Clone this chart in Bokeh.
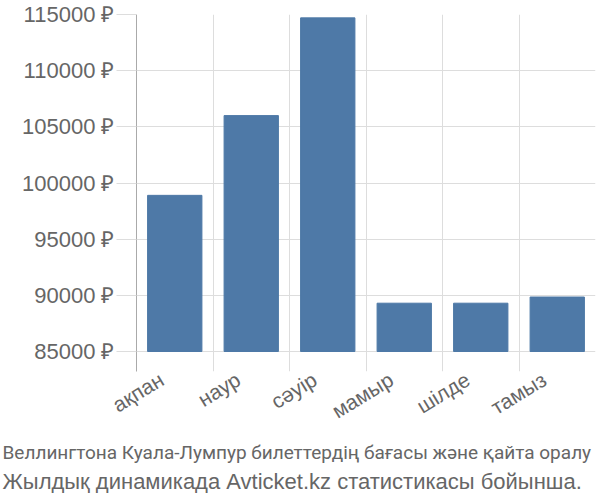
from bokeh.plotting import figure
from bokeh.models import FixedTicker, Title, Range1d
from bokeh.embed import file_html
from bokeh.resources import INLINE

categories = ["ақпан", "наур", "сәуір", "мамыр", "шілде", "тамыз"]
prices = [98900, 106000, 114700, 89300, 89300, 89850]
y_ticks = [85000, 90000, 95000, 100000, 105000, 110000, 115000]
y_tick_labels = ["85000 ₽", "90000 ₽", "95000 ₽", "100000 ₽", "105000 ₽", "110000 ₽", "115000 ₽"]
caption_1 = "Веллингтона Куала-Лумпур билеттердің бағасы және қайта оралу"
caption_2 = "Жылдық динамикада Avticket.kz статистикасы бойынша."

n = len(categories)
xs = [i + 0.5 for i in range(n)]
label_xs = [x - 0.17 for x in xs]

p = figure(frame_width=459, frame_height=357, output_backend="svg", toolbar_location=None,
           x_range=Range1d(0, n), y_range=Range1d(83220, 115000),
           min_border_left=136, min_border_top=14, min_border_right=5, min_border_bottom=4)
p.outline_line_color = None
p.background_fill_color = "white"

p.vbar(x=xs, top=prices, bottom=85000, width=0.71, fill_color="#4e79a7", line_color="#4e79a7")

# x axis
p.xaxis.ticker = FixedTicker(ticks=label_xs)
p.xaxis.major_label_overrides = {x: c for x, c in zip(label_xs, categories)}
p.xaxis.major_label_orientation = 0.55
p.xaxis.axis_line_color = None
p.xaxis.major_tick_line_color = None
p.xaxis.minor_tick_line_color = None
p.xaxis.major_label_text_font = "Liberation Sans"
p.xaxis.major_label_text_font_size = "21px"
p.xaxis.major_label_text_color = "#666666"
p.xaxis.major_label_standoff = 0
p.xgrid.ticker = FixedTicker(ticks=list(range(n + 1)))
p.xgrid.grid_line_color = "#dddddd"

# y axis
p.yaxis.ticker = FixedTicker(ticks=y_ticks)
p.yaxis.major_label_overrides = {t: l for t, l in zip(y_ticks, y_tick_labels)}
p.yaxis.axis_line_color = "#aaaaaa"
p.yaxis.major_tick_line_color = "#dddddd"
p.yaxis.major_tick_out = 20
p.yaxis.major_tick_in = 0
p.yaxis.minor_tick_line_color = None
p.yaxis.major_label_text_font = "Liberation Sans"
p.yaxis.major_label_text_font_size = "22px"
p.yaxis.major_label_text_color = "#666666"
p.yaxis.major_label_standoff = 2
p.ygrid.grid_line_color = "#dddddd"

t1 = Title(text=caption_1, align="left", text_font="Roboto", text_font_size="19px",
           text_color="#666666", text_font_style="normal", offset=-134, standoff=6)
t2 = Title(text=caption_2, align="left", text_font="Liberation Sans", text_font_size="22px",
           text_color="#666666", text_font_style="normal", offset=-134, standoff=0)
p.add_layout(t1, "below")
p.add_layout(t2, "below")

open("out.html", "w").write(file_html(p, INLINE))
